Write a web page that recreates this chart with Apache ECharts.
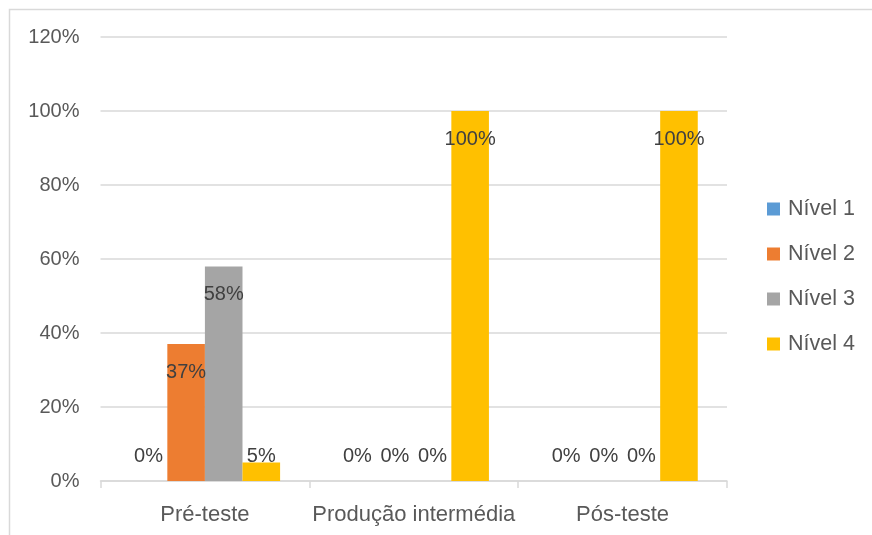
<!DOCTYPE html>
<html>
<head>
<meta charset="utf-8">
<script src="https://cdn.jsdelivr.net/npm/echarts@6/dist/echarts.min.js"></script>
<style>
  html, body { margin: 0; padding: 0; background: #fff; }
  #chart { width: 872px; height: 535px; }
</style>
</head>
<body>
<div id="chart"></div>
<script>
// Categorias (momentos de avaliação) e níveis de desempenho
const categories = ['Pré-teste', 'Produção intermédia', 'Pós-teste'];
const levelNames = ['Nível 1', 'Nível 2', 'Nível 3', 'Nível 4'];
const nivel1 = [0, 0, 0];
const nivel2 = [0.37, 0, 0];
const nivel3 = [0.58, 0, 0];
const nivel4 = [0.05, 1.00, 1.00];
const yTicks = [0, 0.2, 0.4, 0.6, 0.8, 1.0, 1.2];

const colors = ['#5B9BD5', '#ED7D31', '#A5A5A5', '#FFC000'];
const FONT = "'Liberation Sans', Arial, sans-serif";

function pct(v) { return Math.round(v * 100) + '%'; }

// Rótulos dentro do topo da barra; para barras muito baixas, junto à base
function buildData(values) {
  return values.map(v => {
    const small = v < 0.1;
    return {
      value: v,
      label: small
        ? { position: 'insideBottom', distance: 15 }
        : { position: 'insideTop', distance: 18 }
    };
  });
}

const seriesValues = [nivel1, nivel2, nivel3, nivel4];

const chart = echarts.init(document.getElementById('chart'), null, { renderer: 'canvas' });

chart.setOption({
  backgroundColor: '#ffffff',
  animation: false,
  color: colors,
  textStyle: { fontFamily: FONT },
  graphic: [{
    type: 'rect',
    left: 7, top: 7,
    shape: { width: 1000, height: 1000 },
    style: { fill: 'none', stroke: '#d9d9d9', lineWidth: 1.5 },
    silent: true, z: -1
  }],
  grid: { left: 100.5, right: 145, top: 37, bottom: 54, containLabel: false },
  legend: {
    orient: 'vertical',
    left: 767,
    top: 198,
    padding: 0,
    itemWidth: 13,
    itemHeight: 13,
    itemGap: 23,
    icon: 'rect',
    data: levelNames,
    textStyle: { color: '#595959', fontSize: 21.5, fontFamily: FONT, lineHeight: 20, padding: [0, 0, 0, 3] }
  },
  xAxis: {
    type: 'category',
    data: categories,
    axisLine: { lineStyle: { color: '#d9d9d9', width: 1.5 } },
    axisTick: { show: true, length: 7, lineStyle: { color: '#d9d9d9', width: 1.5 } },
    axisLabel: { color: '#595959', fontSize: 22, fontFamily: FONT, margin: 23, interval: 0 }
  },
  yAxis: {
    type: 'value',
    min: yTicks[0],
    max: yTicks[yTicks.length - 1],
    interval: 0.2,
    axisLine: { show: false },
    axisTick: { show: false },
    splitLine: { lineStyle: { color: '#d9d9d9', width: 1.5 } },
    axisLabel: {
      color: '#595959', fontSize: 20, fontFamily: FONT, margin: 21,
      formatter: v => pct(v)
    }
  },
  series: seriesValues.map((vals, i) => ({
    name: levelNames[i],
    type: 'bar',
    data: buildData(vals),
    barGap: '0%',
    barCategoryGap: '28%',
    label: {
      show: true,
      color: '#404040',
      fontSize: 20,
      fontFamily: FONT,
      formatter: p => pct(p.value)
    }
  }))
});
</script>
</body>
</html>
